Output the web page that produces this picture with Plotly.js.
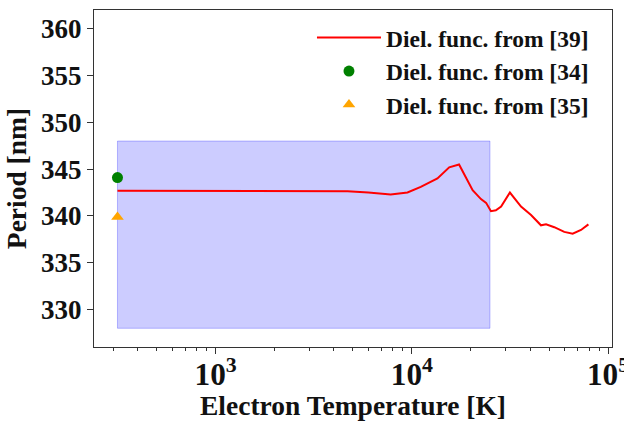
<!DOCTYPE html>
<html>
<head>
<meta charset="utf-8">
<script src="https://cdn.plot.ly/plotly-3.0.1.min.js"></script>
<style>
  html, body { margin: 0; padding: 0; background: #fff; }
  #chart { width: 624px; height: 421px; }
</style>
</head>
<body>
<div id="chart"></div>
<script>
// Period vs. electron temperature, dielectric function from [39]
const tempK = [316, 1000, 2000, 2700, 4700, 6000, 7800, 9500, 11100, 13500, 15500, 17400,
               18500, 20400, 22500, 23900, 25300, 26800, 28500, 31600, 36000, 40500,
               45500, 48300, 53200, 59800, 66000, 72800, 79400];
const periodNm = [342.7, 342.7, 342.7, 342.65, 342.65, 342.5, 342.3, 342.5, 343.1, 344.0, 345.2, 345.5,
                  344.5, 342.75, 341.8, 341.4, 340.5, 340.6, 341.0, 342.5, 341.0, 340.1,
                  339.0, 339.1, 338.8, 338.3, 338.1, 338.5, 339.1];

// Single-point values from [34] and [35]
const refT34 = [316];
const refP34 = [344.1];
const refT35 = [316];
const refP35 = [339.9];

// Shaded band
const bandT = [316, 25000];
const bandP = [328, 348];

const legendNames = ['Diel. func. from [39]', 'Diel. func. from [34]', 'Diel. func. from [35]'];
const yTickVals = [330, 335, 340, 345, 350, 355, 360];

const FONT = 'Liberation Serif, Times New Roman, serif';

const band = {
  x: [bandT[0], bandT[1], bandT[1], bandT[0], bandT[0]],
  y: [bandP[0], bandP[0], bandP[1], bandP[1], bandP[0]],
  mode: 'lines',
  fill: 'toself',
  fillcolor: 'rgba(0,0,255,0.2)',
  line: { color: 'rgba(0,0,255,0.25)', width: 1 },
  showlegend: false,
  hoverinfo: 'skip'
};

const curve = {
  x: tempK, y: periodNm,
  mode: 'lines',
  name: legendNames[0],
  line: { color: '#ff0000', width: 2 }
};

const pt34 = {
  x: refT34, y: refP34,
  mode: 'markers',
  name: legendNames[1],
  marker: { color: '#008000', size: 11, symbol: 'circle' }
};

const pt35 = {
  x: refT35, y: refP35,
  mode: 'markers',
  name: legendNames[2],
  marker: { color: '#ffa500', size: 11, symbol: 'triangle-up' }
};

const layout = {
  width: 624, height: 421,
  margin: { l: 94, r: 12, t: 10, b: 74 },
  paper_bgcolor: '#fff',
  plot_bgcolor: '#fff',
  font: { family: FONT, color: '#111', size: 26, weight: 'bold' },
  showlegend: true,
  legend: {
    x: 0.4208, y: 0.983, xanchor: 'left', yanchor: 'top',
    bgcolor: 'rgba(255,255,255,0)',
    font: { family: FONT, size: 23.5, color: '#111', weight: 'bold' },
    traceorder: 'normal',
    itemwidth: 64
  },
  xaxis: {
    type: 'log',
    range: [2.38, 5.02],
    dtick: 1,
    exponentformat: 'power',
    showgrid: false, zeroline: false,
    showline: true, linecolor: '#333', linewidth: 1, mirror: true,
    ticks: 'outside', ticklen: 6, tickwidth: 1, tickcolor: '#333',
    ticklabeloverflow: 'allow',
    ticklabelstandoff: -5,
    minor: { ticks: 'outside', ticklen: 3, tickwidth: 1, tickcolor: '#333', dtick: 'D1', showgrid: false },
    tickfont: { family: FONT, size: 25, weight: 'bold' },
    title: { text: 'Electron Temperature [K]', font: { family: FONT, size: 27.5, weight: 'bold' }, standoff: 2 }
  },
  yaxis: {
    range: [326, 362],
    tickvals: yTickVals,
    showgrid: false, zeroline: false,
    showline: true, linecolor: '#333', linewidth: 1, mirror: true,
    ticks: 'outside', ticklen: 6, tickwidth: 1, tickcolor: '#333',
    tickfont: { family: FONT, size: 27, weight: 'bold' },
    title: { text: 'Period [nm]', font: { family: FONT, size: 27.5, weight: 'bold' }, standoff: 6 }
  }
};

Plotly.newPlot('chart', [band, curve, pt34, pt35], layout, { staticPlot: true, displayModeBar: false });
</script>
</body>
</html>
